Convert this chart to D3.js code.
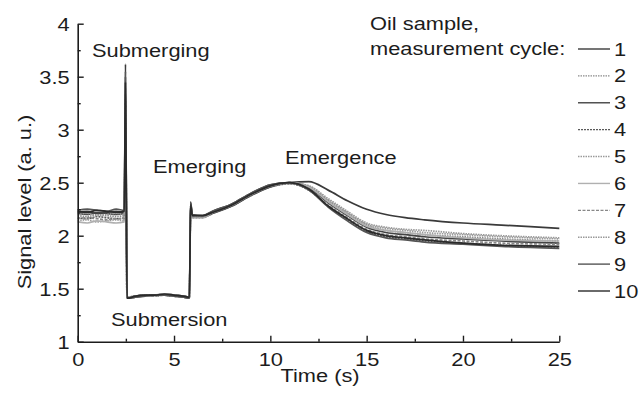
<!DOCTYPE html>
<html>
<head>
<meta charset="utf-8">
<script src="https://cdn.jsdelivr.net/npm/d3@7"></script>
<style>
  body { margin: 0; background: #fff; }
  svg { display: block; font-family: "Liberation Sans", Arial, sans-serif; }
</style>
</head>
<body>
<div id="chart"></div>
<script>
// time samples shared by all cycles (s)
let times = [0, 0.5, 1, 1.5, 2, 2.42, 2.48, 2.56, 3, 3.5, 4, 4.5, 5, 5.5, 5.8, 5.86, 5.95, 6.5,
             7, 8, 9, 10, 11, 12, 13, 14, 15, 16, 17, 18, 20, 22, 25];

// signal level per measurement cycle (a. u.)
let cycle1  = [2.22,2.23,2.21,2.22,2.23,2.22, 3.62, 1.41, 1.43,1.44,1.44,1.45,1.44,1.43,1.42, 2.32, 2.19, 2.18, 2.21,2.28,2.38,2.46,2.50,2.51,2.43,2.33,2.25,2.20,2.17,2.15,2.12,2.10,2.07];
let cycle2  = [2.19,2.18,2.20,2.19,2.18,2.19, 3.30, 1.42, 1.43,1.44,1.43,1.44,1.44,1.43,1.42, 2.25, 2.18, 2.18, 2.22,2.29,2.39,2.47,2.50,2.46,2.33,2.21,2.10,2.05,2.03,2.01,1.99,1.97,1.95];
let cycle3  = [2.21,2.20,2.22,2.21,2.20,2.21, 3.50, 1.41, 1.42,1.43,1.44,1.44,1.43,1.42,1.41, 2.30, 2.19, 2.19, 2.23,2.30,2.40,2.48,2.50,2.45,2.31,2.19,2.08,2.03,2.01,1.99,1.97,1.95,1.93];
let cycle4  = [2.17,2.16,2.18,2.17,2.16,2.17, 3.10, 1.42, 1.43,1.44,1.44,1.44,1.43,1.43,1.42, 2.22, 2.17, 2.17, 2.21,2.28,2.38,2.46,2.49,2.43,2.28,2.15,2.04,1.99,1.97,1.95,1.93,1.91,1.89];
let cycle5  = [2.14,2.15,2.13,2.14,2.15,2.14, 3.20, 1.41, 1.42,1.43,1.43,1.44,1.43,1.42,1.41, 2.28, 2.18, 2.18, 2.22,2.29,2.39,2.47,2.50,2.47,2.35,2.23,2.12,2.08,2.06,2.05,2.02,2.00,1.98];
let cycle6  = [2.13,2.12,2.14,2.13,2.12,2.13, 2.90, 1.42, 1.43,1.43,1.44,1.45,1.44,1.43,1.42, 2.20, 2.17, 2.17, 2.22,2.29,2.39,2.47,2.50,2.46,2.32,2.20,2.09,2.05,2.03,2.01,1.98,1.96,1.95];
let cycle7  = [2.16,2.17,2.16,2.15,2.16,2.16, 3.40, 1.41, 1.43,1.44,1.43,1.44,1.44,1.43,1.42, 2.26, 2.18, 2.18, 2.22,2.29,2.39,2.47,2.49,2.44,2.29,2.17,2.06,2.01,1.99,1.97,1.95,1.93,1.92];
let cycle8  = [2.20,2.21,2.19,2.20,2.21,2.20, 3.00, 1.42, 1.43,1.44,1.44,1.44,1.43,1.43,1.42, 2.24, 2.18, 2.18, 2.22,2.29,2.39,2.47,2.50,2.47,2.34,2.22,2.11,2.07,2.05,2.03,2.01,1.99,1.97];
let cycle9  = [2.24,2.25,2.24,2.23,2.25,2.24, 3.55, 1.41, 1.42,1.43,1.44,1.44,1.43,1.42,1.41, 2.31, 2.20, 2.19, 2.23,2.30,2.40,2.48,2.50,2.43,2.27,2.14,2.03,1.98,1.96,1.94,1.92,1.90,1.88];
let cycle10 = [2.23,2.22,2.24,2.23,2.22,2.23, 3.45, 1.41, 1.43,1.44,1.44,1.45,1.44,1.43,1.42, 2.29, 2.19, 2.19, 2.22,2.29,2.39,2.47,2.50,2.44,2.28,2.16,2.05,2.00,1.98,1.96,1.93,1.91,1.90];

let cycleNames = ["1", "2", "3", "4", "5", "6", "7", "8", "9", "10"];
let cycleValues = [cycle1, cycle2, cycle3, cycle4, cycle5, cycle6, cycle7, cycle8, cycle9, cycle10];

let xTicks = [0, 5, 10, 15, 20, 25];
let xMinor = [2.5, 7.5, 12.5, 17.5, 22.5];
let yTicks = [1, 1.5, 2, 2.5, 3, 3.5, 4];
let yMinor = [1.25, 1.75, 2.25, 2.75, 3.25, 3.75];

// line looks of the ten cycles
let lineColors = ["#3a3a3a", "#8a8a8a", "#444", "#5a5a5a", "#9a9a9a", "#b0b0b0", "#888", "#999", "#555", "#2a2a2a"];
let lineDashes = [null, "1.5,1", null, "2,1", "1.5,1", null, "3,1.5", "1.5,1", null, null];

let width = 644, height = 395;
let sx = 1.18;       // the original lettering is a little wide
let fontSize = 18.5;
let ink = "#1c1c1c";

let svg = d3.select("#chart").append("svg")
    .attr("width", width)
    .attr("height", height);

let x = d3.scaleLinear().domain([0, 25]).range([77.7, 559.3]);
let y = d3.scaleLinear().domain([1, 4]).range([341.7, 23.7]);

function label(txt, px, py, anchor, rot) {
    return svg.append("text")
        .attr("transform", `translate(${px},${py})` + (rot ? ` rotate(${rot})` : "") + ` scale(${sx},1)`)
        .attr("text-anchor", anchor || "start")
        .attr("font-size", fontSize)
        .attr("fill", ink)
        .text(txt);
}

// curves
let line = d3.line()
    .x((d, i) => x(times[i]))
    .y(d => y(d))
    .curve(d3.curveMonotoneX);

svg.append("g").selectAll("path")
    .data(cycleValues)
    .enter().append("path")
    .attr("d", d => line(d))
    .attr("fill", "none")
    .attr("stroke", (d, i) => lineColors[i])
    .attr("stroke-dasharray", (d, i) => lineDashes[i])
    .attr("stroke-width", 1.7);

// axes, ticks pointing inward
let xAxis = svg.append("g")
    .attr("transform", `translate(0,${y(1)})`)
    .call(d3.axisBottom(x).tickValues(xTicks).tickSize(-6).tickSizeOuter(0).tickPadding(11).tickFormat(d3.format("d")));
svg.append("g")
    .attr("transform", `translate(0,${y(1)})`)
    .call(d3.axisBottom(x).tickValues(xMinor).tickSize(-3).tickSizeOuter(0).tickFormat(""))
    .select(".domain").remove();

let yAxis = svg.append("g")
    .attr("transform", `translate(${x(0)},0)`)
    .call(d3.axisLeft(y).tickValues(yTicks).tickSize(-6).tickSizeOuter(0).tickFormat(d => d));
svg.append("g")
    .attr("transform", `translate(${x(0)},0)`)
    .call(d3.axisLeft(y).tickValues(yMinor).tickSize(-3).tickSizeOuter(0).tickFormat(""))
    .select(".domain").remove();

svg.selectAll(".domain").attr("stroke", ink).attr("stroke-width", 1.6);
svg.selectAll(".tick line").attr("stroke", ink).attr("stroke-width", 1.4);

xAxis.selectAll("text")
    .attr("font-size", fontSize).attr("fill", ink)
    .attr("font-family", "Liberation Sans, Arial, sans-serif")
    .attr("transform", `scale(${sx},1)`);
yAxis.selectAll("text")
    .attr("font-size", fontSize).attr("fill", ink)
    .attr("font-family", "Liberation Sans, Arial, sans-serif")
    .attr("x", 0).attr("dy", "0.35em")
    .attr("transform", `translate(-8,0) scale(${sx},1)`);

// axis titles
label("Time (s)", 320, 382, "middle");
label("Signal level (a. u.)", 31, 202, "middle", -90);

// phase annotations
label("Submerging", 92, 57);
label("Emerging", 153, 173);
label("Emergence", 285, 164);
label("Submersion", 111, 326);

// legend
label("Oil sample,", 370, 30);
label("measurement cycle:", 370, 55);

let legendY = d3.scaleLinear().domain([0, 9]).range([49, 291]);
let legend = svg.append("g").selectAll("g")
    .data(cycleNames)
    .enter().append("g")
    .attr("transform", (d, i) => `translate(0,${legendY(i)})`);
legend.append("line")
    .attr("x1", 578).attr("x2", 610)
    .attr("stroke", (d, i) => lineColors[i])
    .attr("stroke-dasharray", (d, i) => lineDashes[i])
    .attr("stroke-width", 1.4);
legend.append("text")
    .attr("transform", `translate(614,6.5) scale(${sx},1)`)
    .attr("font-size", fontSize)
    .attr("fill", ink)
    .text(d => d);
</script>
</body>
</html>
